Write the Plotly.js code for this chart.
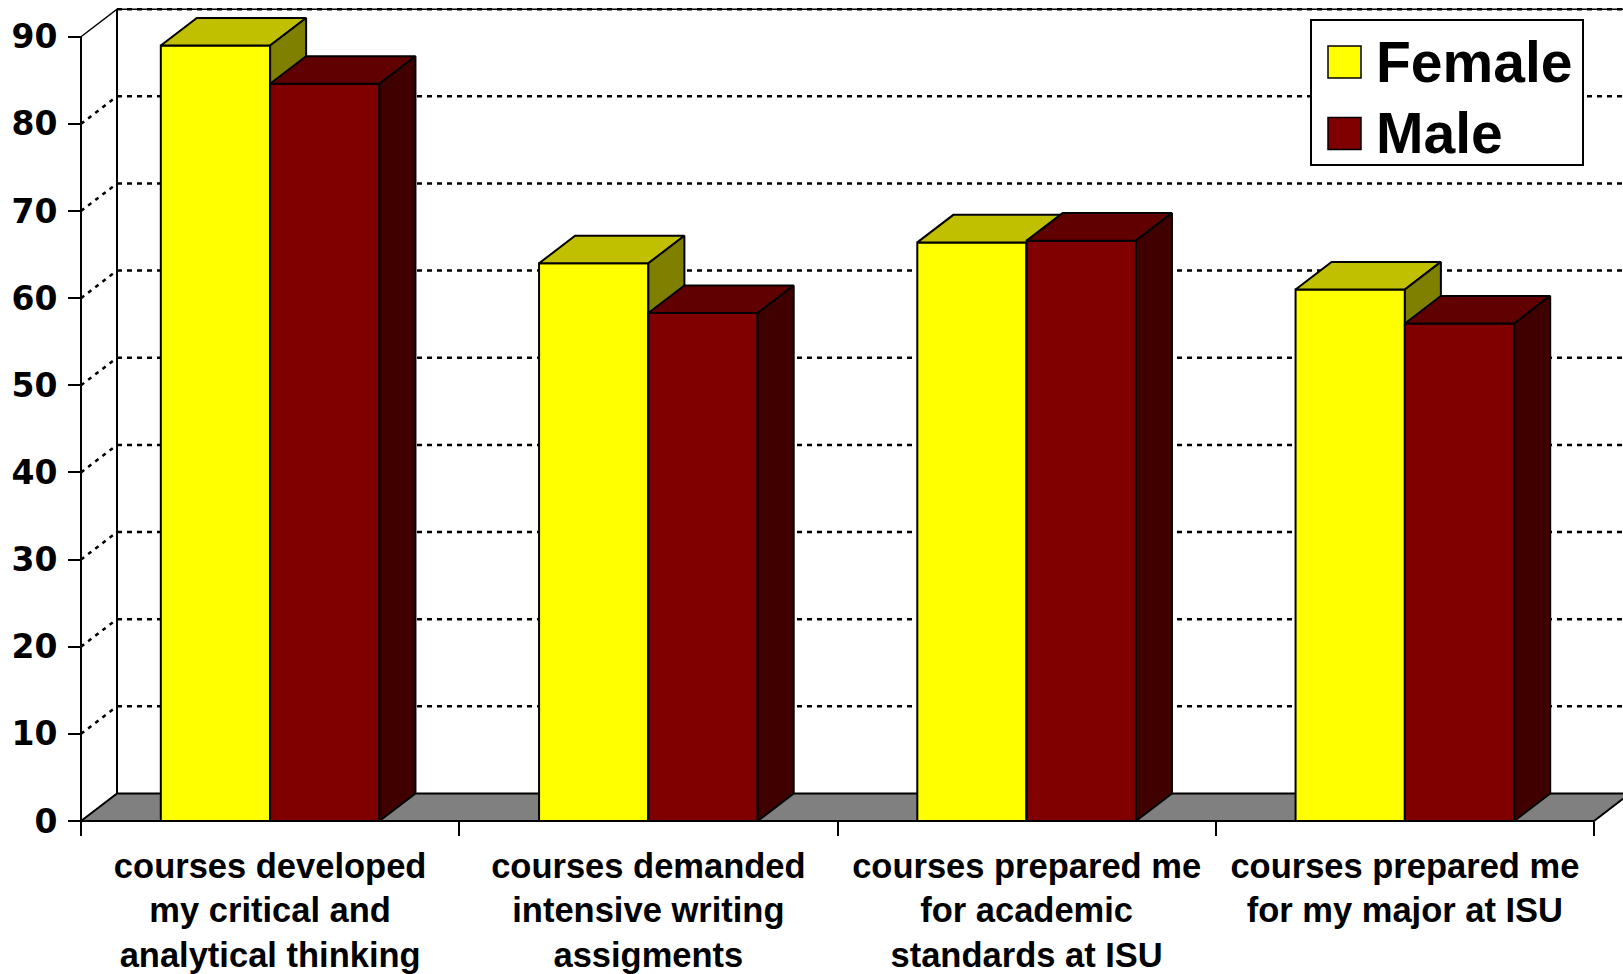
<!DOCTYPE html>
<html><head><meta charset="utf-8">
<script src="https://cdn.plot.ly/plotly-3.0.1.min.js"></script>
<style>html,body{margin:0;padding:0;background:#fff;}#chart{width:1623px;height:974px;}</style>
</head><body><div id="chart"></div>
<script>
// ---- data ----
const categories = [
  "courses developed<br>my critical and<br>analytical thinking",
  "courses demanded<br>intensive writing<br>assigments",
  "courses prepared me<br>for academic<br>standards at ISU",
  "courses prepared me<br>for my major at ISU"
];
const seriesNames = ["Female", "Male"];
const female = [89, 64, 66.4, 61];
const male = [84.6, 58.3, 66.6, 57.1];
const yTickValues = [0, 10, 20, 30, 40, 50, 60, 70, 80, 90];

// ---- styling / geometry ----
const faceColors = {
  Female: {front: "#FFFF00", top: "#C0C000", side: "#808000"},
  Male:   {front: "#800000", top: "#600000", side: "#400000"}
};
const DX = 0.0952;   // depth offset in category units
const DY = 3.16;     // depth offset in value units
const BW = 0.289;    // bar width in category units
const YMAX = 90;
const nCat = categories.length;

// plot-area pixel frame
const W = 1623, H = 974;
const L = 60, R = 0, T = 2, B = 142;
const x0px = 81, catPx = 378.25, y0px = 821, unitPx = 8.714;
const plotW = W - L - R, plotH = H - T - B;
const xRange = [(L - x0px) / catPx, (W - R - x0px) / catPx];
const yRange = [(y0px - (H - B)) / unitPx, (y0px - T) / unitPx];
const px2paperX = p => (p - L) / plotW;
const px2paperY = p => (H - B - p) / plotH;

const traces = [];
const poly = (xs, ys, fill, lw) => traces.push({
  type: "scatter", mode: "lines", x: xs.concat([xs[0]]), y: ys.concat([ys[0]]),
  fill: "toself", fillcolor: fill, line: {color: "#000", width: lw === undefined ? 2 : lw},
  hoverinfo: "skip", showlegend: false
});
const line = (xs, ys, dash, lw) => traces.push({
  type: "scatter", mode: "lines", x: xs, y: ys, connectgaps: false,
  line: {color: "#000", width: lw, dash: dash}, hoverinfo: "skip", showlegend: false
});

// floor
poly([0, nCat, nCat + DX, DX], [0, 0, DY, DY], "#808080", 2);

// back wall gridlines (dotted) and side wall diagonals
const gx = [], gy = [], sx = [], sy = [];
yTickValues.forEach(v => {
  if (v === 0) return;
  gx.push(DX, nCat + 0.5, null); gy.push(v + DY, v + DY, null);
  if (v !== YMAX) { sx.push(0, DX, null); sy.push(v, v + DY, null); }
});
line(gx, gy, "5px,5px", 2.5);
line(sx, sy, "4px,5px", 2.5);
// solid frame edges
line([DX, DX], [DY, YMAX + DY], "solid", 2);
line([0, DX, nCat + 0.5], [YMAX, YMAX + DY, YMAX + DY], "solid", 1.5);
line([0, 0], [0, YMAX], "solid", 2);

// bars (painter's order: left to right)
for (let i = 0; i < nCat; i++) {
  [["Female", female[i], i + 0.5 - BW], ["Male", male[i], i + 0.5]].forEach(([name, v, xl]) => {
    const xr = xl + BW, c = faceColors[name];
    poly([xl, xr, xr, xl], [0, 0, v, v], c.front);
    poly([xl, xr, xr + DX, xl + DX], [v, v, v + DY, v + DY], c.top);
    poly([xr, xr + DX, xr + DX, xr], [0, DY, v + DY, v], c.side);
  });
}

// custom legend
const shapes = [
  {type: "rect", xref: "paper", yref: "paper", x0: px2paperX(1311), x1: px2paperX(1583),
   y0: px2paperY(165), y1: px2paperY(20), line: {color: "#000", width: 2}, fillcolor: "#fff", layer: "above"}
];
const annotations = [];
const legendRows = [62, 133.5];
seriesNames.forEach((name, k) => {
  const cy = legendRows[k];
  shapes.push({type: "rect", xref: "paper", yref: "paper", x0: px2paperX(1328), x1: px2paperX(1361),
    y0: px2paperY(cy + 16), y1: px2paperY(cy - 16), line: {color: "#000", width: 1.5},
    fillcolor: faceColors[name].front, layer: "above"});
  annotations.push({xref: "paper", yref: "paper", x: px2paperX(1374), y: px2paperY(cy),
    xanchor: "left", yanchor: "middle", showarrow: false, text: name,
    font: {family: "Liberation Sans, Arial, sans-serif", size: 57, color: "#000", weight: "bold"}});
});

const layout = {
  width: W, height: H, margin: {l: L, r: R, t: T, b: B},
  paper_bgcolor: "#fff", plot_bgcolor: "#fff", showlegend: false,
  xaxis: {range: xRange, tickvals: categories.map((_, i) => i + 0.5), ticktext: categories,
    ticks: "", showgrid: false, zeroline: false, showline: false, fixedrange: true,
    anchor: "free", position: px2paperY(y0px), ticklabelstandoff: 21,
    tickfont: {family: "Liberation Sans, Arial, sans-serif", size: 34.5, color: "#000", weight: "bold"}},
  xaxis2: {range: xRange, overlaying: "x", anchor: "free", position: px2paperY(y0px), side: "bottom",
    tickvals: Array.from({length: nCat + 1}, (_, i) => i), ticks: "outside", ticklen: 14, tickwidth: 2,
    tickcolor: "#000", showticklabels: false, showgrid: false, zeroline: false, showline: false},
  yaxis: {range: yRange, tickvals: yTickValues, ticktext: yTickValues.map(String),
    ticks: "outside", ticklen: 13, tickwidth: 2, tickcolor: "#000",
    showgrid: false, zeroline: false, showline: false, fixedrange: true,
    anchor: "free", position: px2paperX(x0px), ticklabelstandoff: 4,
    tickfont: {family: "DejaVu Sans, Verdana, sans-serif", size: 33, color: "#000", weight: "bold"}},
  shapes: shapes, annotations: annotations
};

// dummy trace to show xaxis2 ticks
traces.push({type: "scatter", x: [0], y: [0], xaxis: "x2", mode: "markers",
  marker: {opacity: 0}, hoverinfo: "skip", showlegend: false});

Plotly.newPlot("chart", traces, layout, {displayModeBar: false, staticPlot: true});
</script>
</body></html>
